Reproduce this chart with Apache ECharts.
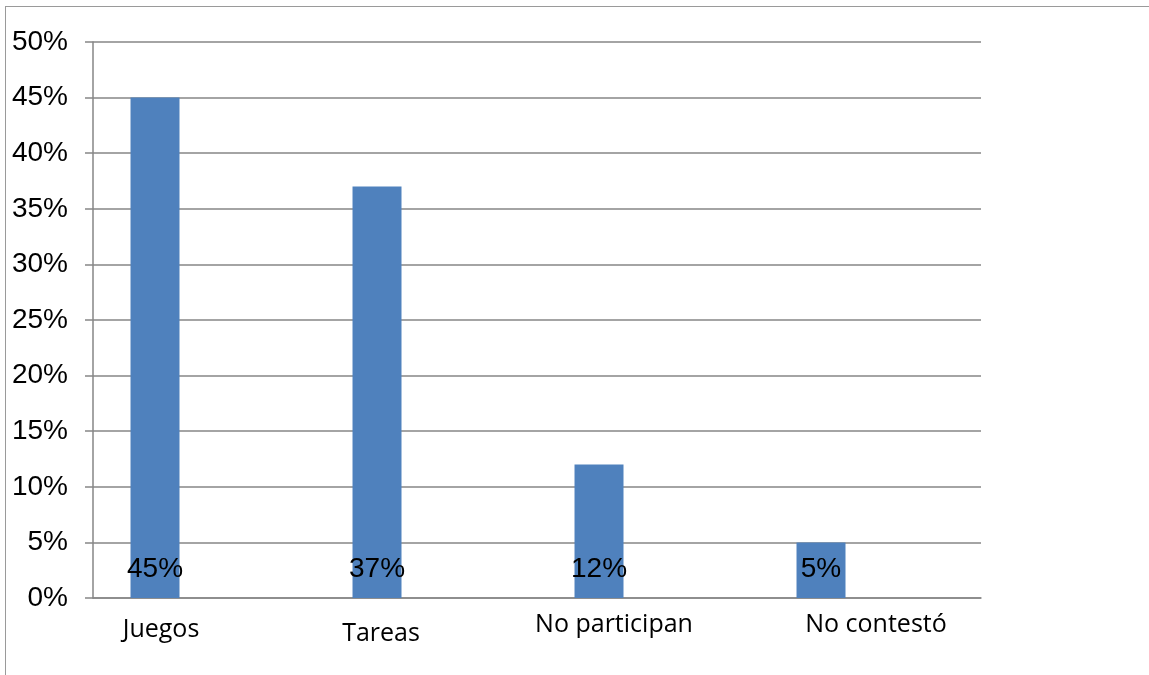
<!DOCTYPE html>
<html>
<head>
<meta charset="utf-8">
<script src="https://cdn.jsdelivr.net/npm/echarts@6/dist/echarts.min.js"></script>
<style>
  html, body { margin: 0; padding: 0; background: #fff; }
  #frame {
    position: absolute; left: 5px; top: 6px; width: 1144px; height: 669px;
    border-top: 1.5px solid #9a9a9a; border-left: 1.5px solid #9a9a9a;
    box-sizing: border-box;
  }
  #chart { position: absolute; left: 0; top: 0; width: 1149px; height: 675px; }
</style>
</head>
<body>
<div id="frame"></div>
<div id="chart"></div>
<script>
// Categories and percentages
const categories = ['Juegos', 'Tareas', 'No participan', 'No contestó'];
const values = [45, 37, 12, 5];
// Two further series of the worksheet hold no values but keep their slots
const emptyA = [null, null, null, null];
const emptyB = [null, null, null, null];
const yTicks = { min: 0, max: 50, interval: 5 };

// Per-category shift of the axis labels (px, positive = right / down)
const labelShiftX = [-43, -45, -34, 6];
const labelShiftY = [5, 9, 0, 0];

const rich = {};
categories.forEach((c, i) => {
  const dx = labelShiftX[i], dy = labelShiftY[i];
  rich['c' + i] = {
    fontFamily: 'Open Sans', fontSize: 25, color: '#000',
    padding: [Math.max(dy, 0), Math.max(-dx, 0) * 2, 0, Math.max(dx, 0) * 2]
  };
});

const chart = echarts.init(document.getElementById('chart'), null, { renderer: 'canvas' });
chart.setOption({
  animation: false,
  backgroundColor: 'transparent',
  grid: { left: 93, right: 168, top: 42, bottom: 77, containLabel: false },
  xAxis: {
    type: 'category',
    data: categories,
    axisLine: { show: true, lineStyle: { color: '#868686', width: 1.5 } },
    axisTick: { show: false },
    axisLabel: {
      margin: 14,
      interval: 0,
      formatter: (v, i) => '{c' + i + '|' + v + '}',
      rich: rich
    },
    splitLine: { show: false }
  },
  yAxis: {
    type: 'value',
    min: yTicks.min, max: yTicks.max, interval: yTicks.interval,
    axisLine: { show: true, lineStyle: { color: '#868686', width: 1.5 } },
    axisTick: { show: true, length: 8, lineStyle: { color: '#868686', width: 1.5 } },
    axisLabel: {
      margin: 25,
      formatter: '{value}%',
      fontFamily: 'Liberation Sans', fontSize: 28, color: '#000'
    },
    splitLine: { show: true, lineStyle: { color: '#868686', width: 1.5 } }
  },
  series: [
    {
      type: 'bar',
      data: values,
      barGap: '0%',
      barCategoryGap: '33.8%',
      itemStyle: { color: '#4F81BD' },
      label: {
        show: true,
        position: 'insideBottom',
        distance: 15,
        formatter: '{c}%',
        fontFamily: 'Liberation Sans', fontSize: 28, color: '#000'
      }
    },
    { type: 'bar', data: emptyA, barGap: '0%', barCategoryGap: '33.8%' },
    { type: 'bar', data: emptyB, barGap: '0%', barCategoryGap: '33.8%' }
  ]
});
</script>
</body>
</html>
